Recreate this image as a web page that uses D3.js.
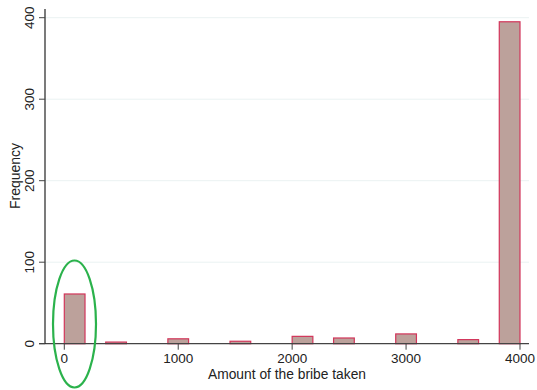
<!DOCTYPE html>
<html><head><meta charset="utf-8">
<script src="https://cdn.jsdelivr.net/npm/d3@7"></script>
<style>body{margin:0;background:#fff}svg{display:block}text{font-family:"Liberation Sans",Arial,sans-serif;fill:#222}</style>
</head><body><svg id="c" width="537" height="390"></svg>
<script>
// histogram: 22 bins from 0 to 4000
const binStarts = [0, 363.64, 909.09, 1454.55, 2000, 2363.64, 2909.09, 3454.55, 3818.18];
const binWidth = 4000 / 22;
const counts = [61, 2, 6, 3, 9, 7, 12, 5, 395];
const xTicks = [0, 1000, 2000, 3000, 4000];
const yTicks = [0, 100, 200, 300, 400];

const svg = d3.select("#c");
const x = d3.scaleLinear().domain([0, 4000]).range([64.3, 520]);
const y = d3.scaleLinear().domain([0, 400]).range([343.7, 17.7]);

// gridlines
svg.append("g").selectAll("line").data(yTicks.slice(1)).join("line")
  .attr("x1", 45).attr("x2", 529).attr("y1", d => y(d)).attr("y2", d => y(d))
  .attr("stroke", "#eaf2f2").attr("stroke-width", 1);

// bars
const data = binStarts.map((s, i) => ({s, c: counts[i]}));
svg.append("g").selectAll("rect").data(data).join("rect")
  .attr("x", d => x(d.s)).attr("width", d => x(d.s + binWidth) - x(d.s))
  .attr("y", d => y(d.c)).attr("height", d => y(0) - y(d.c))
  .attr("fill", "#bca19b").attr("stroke", "#d2355a").attr("stroke-width", 1.2);

// x axis
const xa = svg.append("g").attr("transform", `translate(0,${y(0)})`);
xa.append("line").attr("x1", 39).attr("x2", 529).attr("stroke", "#444").attr("stroke-width", 1.2);
xa.selectAll("line.t").data(xTicks).join("line").attr("class", "t")
  .attr("x1", d => x(d)).attr("x2", d => x(d)).attr("y1", 0).attr("y2", 6)
  .attr("stroke", "#444");
xa.selectAll("text").data(xTicks).join("text")
  .attr("x", d => x(d)).attr("y", 19).attr("text-anchor", "middle")
  .attr("font-size", 13.5).text(d => d);

// y axis
const ya = svg.append("g").attr("transform", "translate(45,0)");
ya.append("line").attr("y1", 9).attr("y2", y(0)).attr("stroke", "#222").attr("stroke-width", 1.2);
ya.selectAll("line.t").data(yTicks).join("line").attr("class", "t")
  .attr("x1", -6).attr("x2", 0).attr("y1", d => y(d)).attr("y2", d => y(d))
  .attr("stroke", "#444");
ya.selectAll("text").data(yTicks).join("text")
  .attr("transform", d => `translate(-11,${y(d)}) rotate(-90)`)
  .attr("text-anchor", "middle").attr("font-size", 13.5).text(d => d);

// axis titles
svg.append("text").attr("x", 287).attr("y", 378.5).attr("text-anchor", "middle")
  .attr("font-size", 13.8).text("Amount of the bribe taken");
svg.append("text").attr("transform", "translate(20,176) rotate(-90)")
  .attr("text-anchor", "middle").attr("font-size", 14).text("Frequency");

// green annotation ellipse
svg.append("ellipse").attr("cx", 74.5).attr("cy", 324).attr("rx", 21.5).attr("ry", 63.5)
  .attr("fill", "none").attr("stroke", "#2bb24c").attr("stroke-width", 2.2);
</script></body></html>
